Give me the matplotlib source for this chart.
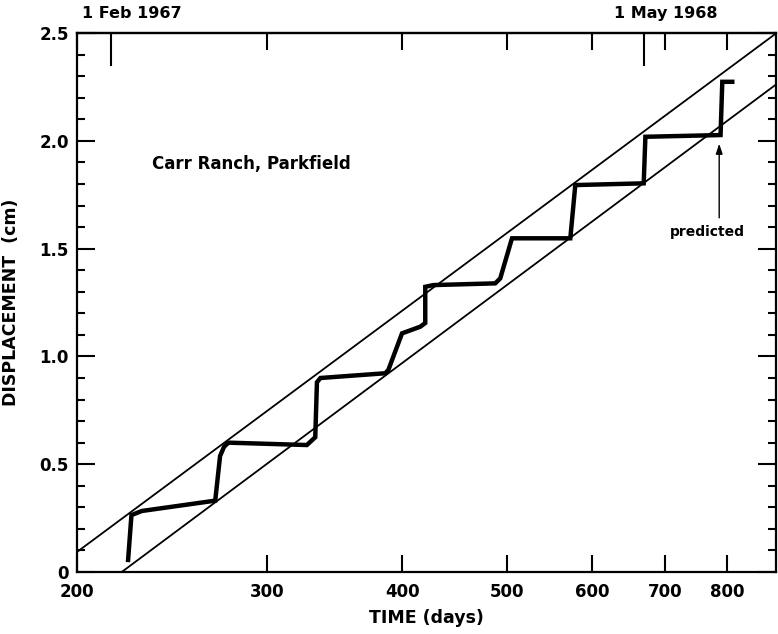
import numpy as np
import matplotlib.pyplot as plt
from matplotlib.ticker import FixedLocator, NullLocator, FixedFormatter, MultipleLocator
import matplotlib.transforms as mtransforms

# data (time in days, displacement in cm)
creep_days = [223, 224.6, 229.6, 268.5, 271.3, 273.6, 276.2, 326.4, 332.3, 333.5, 336,
              385.8, 388.3, 399.8, 415.7, 420.1, 420.1, 427.4, 487.7, 492.9, 505.4,
              572.3, 578.4, 669.2, 671.6, 788.3, 791.2, 808.2]
creep_cm = [0.056, 0.264, 0.283, 0.331, 0.538, 0.581, 0.600, 0.589, 0.625, 0.880, 0.900,
            0.922, 0.937, 1.107, 1.138, 1.155, 1.323, 1.331, 1.339, 1.362, 1.548,
            1.548, 1.795, 1.803, 2.019, 2.027, 2.274, 2.274]

upper_days = [200, 888]
upper_cm = [0.093, 2.50]
lower_days = [220, 888]
lower_cm = [0.0, 2.263]

x_ticks = [200, 300, 400, 500, 600, 700, 800]
y_ticks = [0, 0.5, 1.0, 1.5, 2.0, 2.5]
y_labels = ['0', '0.5', '1.0', '1.5', '2.0', '2.5']
date_days = [215, 669]
date_labels = ['1 Feb 1967', '1 May 1968']
date_label_days = [224.6, 701]

predicted_day = 786
predicted_cm = 2.00

plt.rcParams['font.family'] = 'DejaVu Sans'
plt.rcParams['font.weight'] = 'bold'
plt.rcParams['axes.labelweight'] = 'bold'

fig = plt.figure(figsize=(7.78, 6.34), dpi=100)
ax = fig.add_axes([0.099, 0.0978, 0.899, 0.850])

ax.plot(upper_days, upper_cm, color='black', lw=1.3)
ax.plot(lower_days, lower_cm, color='black', lw=1.3)
ax.plot(creep_days, creep_cm, color='black', lw=3.2, solid_joinstyle='miter')

ax.set_xscale('log')
ax.set_xlim(200, 888)
ax.set_ylim(0, 2.5)

ax.xaxis.set_major_locator(FixedLocator(x_ticks))
ax.xaxis.set_major_formatter(FixedFormatter([str(t) for t in x_ticks]))
ax.xaxis.set_minor_locator(NullLocator())
ax.yaxis.set_major_locator(FixedLocator(y_ticks))
ax.yaxis.set_major_formatter(FixedFormatter(y_labels))
ax.yaxis.set_minor_locator(MultipleLocator(0.1))

ax.tick_params(axis='both', which='major', direction='in', length=13, width=1.5,
               labelsize=12, top=True, right=True, pad=6)
ax.tick_params(axis='y', which='minor', direction='in', length=6, width=1.5,
               left=True, right=True)
ax.tick_params(axis='x', which='major', length=12, pad=8)
for sp in ax.spines.values():
    sp.set_linewidth(1.6)

# longer date ticks on the top axis
sec = ax.secondary_xaxis('top')
sec.set_xticks(date_days)
sec.set_xticklabels(['', ''])
sec.xaxis.set_minor_locator(NullLocator())
sec.tick_params(direction='in', length=24, width=1.5)
sec.spines['top'].set_linewidth(1.6)

trans = mtransforms.blended_transform_factory(ax.transData, ax.transAxes)
for d, lab in zip(date_label_days, date_labels):
    ax.text(d, 1.037, lab, transform=trans, ha='center', va='center', fontsize=11.5)

ax.set_xlabel('TIME (days)', fontsize=12.5, labelpad=6)
ax.set_ylabel('DISPLACEMENT  (cm)', fontsize=12.5, labelpad=14)

ax.text(234.6, 1.893, 'Carr Ranch, Parkfield', fontsize=12, ha='left', va='center')

ax.annotate('', xy=(predicted_day, predicted_cm), xytext=(predicted_day, 1.63),
            arrowprops=dict(arrowstyle='-|>,head_length=0.6,head_width=0.2',
                            color='black', lw=1.0))
ax.text(767, 1.577, 'predicted', fontsize=10, ha='center', va='center')

fig.savefig('out.png', dpi=100)
